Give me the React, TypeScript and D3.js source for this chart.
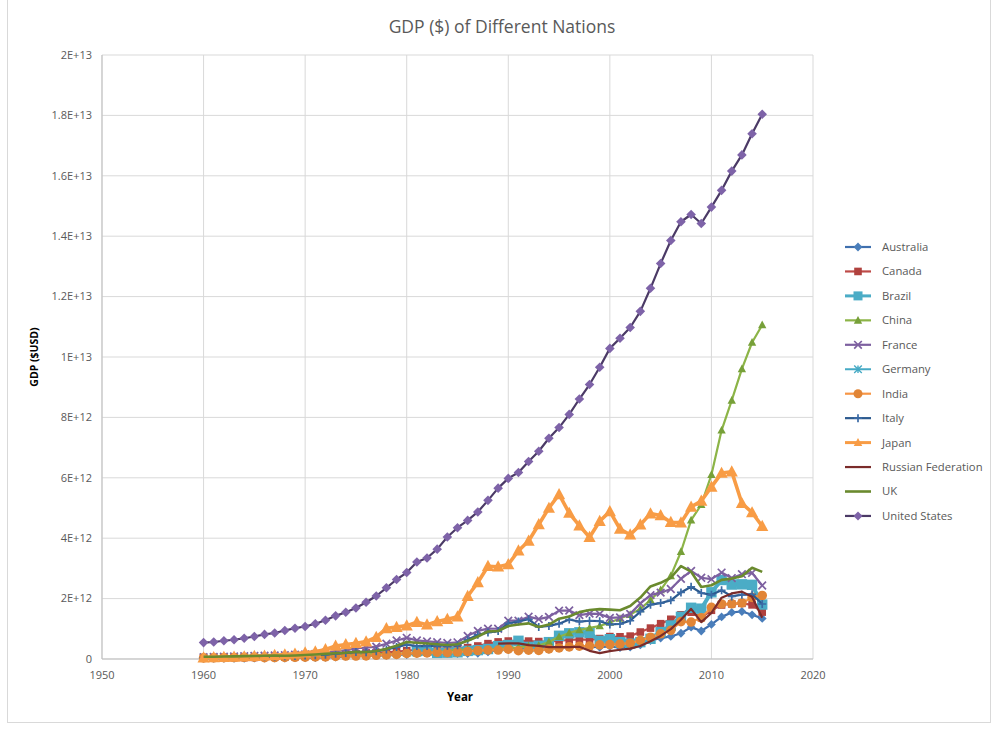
import React from 'react';
import * as d3 from 'd3';

// ---------- DATA (GDP in trillions of USD) ----------
const yearTicks = [1950, 1960, 1970, 1980, 1990, 2000, 2010, 2020];
const gdpTicks = [0, 2e12, 4e12, 6e12, 8e12, 1e13, 1.2e13, 1.4e13, 1.6e13, 1.8e13, 2e13];
const gdpTickLabels = ['0', '2E+12', '4E+12', '6E+12', '8E+12', '1E+13', '1.2E+13', '1.4E+13', '1.6E+13', '1.8E+13', '2E+13'];

const australia = [
  0.0186, 0.0196, 0.0199, 0.0215, 0.0238, 0.0259, 0.0273, 0.0302, 0.0324, 0.0363,
  0.0413, 0.0451, 0.0518, 0.0636, 0.0880, 0.0976, 0.1046, 0.1101, 0.1186, 0.1346,
  0.1498, 0.1768, 0.1934, 0.1769, 0.1932, 0.1804, 0.1819, 0.1894, 0.2356, 0.2995,
  0.3108, 0.3253, 0.3251, 0.3117, 0.3229, 0.3680, 0.4011, 0.4351, 0.3990, 0.3887,
  0.4152, 0.3788, 0.3946, 0.4667, 0.6121, 0.6934, 0.7472, 0.8533, 1.0554, 0.9276,
  1.1444, 1.3948, 1.5434, 1.5736, 1.4643, 1.3450];
const canada = [
  0.0411, 0.0405, 0.0409, 0.0438, 0.0477, 0.0524, 0.0580, 0.0618, 0.0668, 0.0726,
  0.0873, 0.0992, 0.1135, 0.1314, 0.1609, 0.1733, 0.2064, 0.2114, 0.2187, 0.2432,
  0.2739, 0.3064, 0.3139, 0.3404, 0.3550, 0.3646, 0.3771, 0.4312, 0.5079, 0.5653,
  0.5939, 0.6101, 0.5924, 0.5773, 0.5785, 0.6041, 0.6286, 0.6529, 0.6317, 0.6765,
  0.7421, 0.7361, 0.7578, 0.8925, 1.0232, 1.1691, 1.3150, 1.4645, 1.5494, 1.3711,
  1.6135, 1.7890, 1.8240, 1.8425, 1.7926, 1.5528];
const brazil = [ // from 1981
  0.2633, 0.2816, 0.2033, 0.2093, 0.2227, 0.2681, 0.2941, 0.3304, 0.4255,
  0.4618, 0.6025, 0.4006, 0.4375, 0.5583, 0.7691, 0.8503, 0.8831, 0.8637, 0.5995,
  0.6554, 0.5594, 0.5079, 0.5583, 0.6690, 0.8915, 1.1076, 1.3971, 1.6959, 1.6670,
  2.2088, 2.6163, 2.4652, 2.4727, 2.4559, 1.8026];
const china = [
  0.0597, 0.0500, 0.0472, 0.0507, 0.0597, 0.0704, 0.0767, 0.0729, 0.0709, 0.0797,
  0.0926, 0.0996, 0.1136, 0.1385, 0.1442, 0.1632, 0.1539, 0.1749, 0.1495, 0.1783,
  0.1911, 0.1958, 0.2051, 0.2303, 0.2599, 0.3094, 0.3008, 0.2729, 0.3123, 0.3479,
  0.3609, 0.3834, 0.4266, 0.4447, 0.5643, 0.7345, 0.8637, 0.9615, 1.0290, 1.0940,
  1.2110, 1.3390, 1.4710, 1.6600, 1.9550, 2.2860, 2.7520, 3.5520, 4.5980, 5.1100,
  6.1010, 7.5730, 8.5610, 9.6070, 10.480, 11.060];
const france = [
  0.0620, 0.0678, 0.0758, 0.0846, 0.0944, 0.1017, 0.1106, 0.1190, 0.1297, 0.1408,
  0.1486, 0.1650, 0.2036, 0.2641, 0.2863, 0.3600, 0.3720, 0.4112, 0.5063, 0.6138,
  0.7012, 0.6151, 0.5841, 0.5588, 0.5300, 0.5535, 0.7654, 0.9300, 1.0069, 1.0012,
  1.2693, 1.2693, 1.4013, 1.3222, 1.3939, 1.6016, 1.6053, 1.4524, 1.5032, 1.4925,
  1.3623, 1.3768, 1.4942, 1.8404, 2.1155, 2.1963, 2.3181, 2.6570, 2.9183, 2.6902,
  2.6426, 2.8618, 2.6812, 2.8082, 2.8497, 2.4337];
const germany: number[] = [];
const india = [
  0.0370, 0.0392, 0.0422, 0.0484, 0.0560, 0.0590, 0.0459, 0.0501, 0.0531, 0.0585,
  0.0624, 0.0675, 0.0716, 0.0855, 0.0995, 0.0984, 0.1026, 0.1217, 0.1377, 0.1524,
  0.1865, 0.1935, 0.2007, 0.2184, 0.2124, 0.2322, 0.2482, 0.2794, 0.2967, 0.2960,
  0.3266, 0.2742, 0.2932, 0.2842, 0.3332, 0.3666, 0.3999, 0.4231, 0.4289, 0.4667,
  0.4767, 0.4939, 0.5238, 0.6184, 0.7215, 0.8340, 0.9492, 1.2387, 1.2241, 1.3654,
  1.7085, 1.8230, 1.8277, 1.8567, 2.0391, 2.1024];
const italy = [
  0.0404, 0.0448, 0.0502, 0.0580, 0.0635, 0.0680, 0.0734, 0.0811, 0.0878, 0.0972,
  0.1136, 0.1242, 0.1447, 0.1744, 0.1996, 0.2279, 0.2246, 0.2576, 0.3154, 0.3946,
  0.4759, 0.4291, 0.4264, 0.4408, 0.4397, 0.4528, 0.6395, 0.8035, 0.8778, 0.9253,
  1.1774, 1.2426, 1.3158, 1.0614, 1.0959, 1.1706, 1.3085, 1.2391, 1.2667, 1.2520,
  1.1419, 1.1623, 1.2667, 1.5696, 1.7986, 1.8524, 1.9428, 2.2035, 2.3909, 2.1853,
  2.1252, 2.2761, 2.0726, 2.1303, 2.1416, 1.8219];
const japan = [
  0.0443, 0.0537, 0.0605, 0.0692, 0.0817, 0.0910, 0.1059, 0.1236, 0.1469, 0.1727,
  0.2127, 0.2402, 0.3181, 0.4320, 0.4794, 0.5213, 0.5762, 0.7210, 1.0140, 1.0550,
  1.1050, 1.2180, 1.1340, 1.2430, 1.3180, 1.3990, 2.0790, 2.5330, 3.0720, 3.0540,
  3.1330, 3.5840, 3.9090, 4.4540, 4.9990, 5.4490, 4.8330, 4.4150, 4.0320, 4.5620,
  4.8880, 4.3040, 4.1150, 4.4450, 4.8150, 4.7550, 4.5300, 4.5150, 5.0380, 5.2310,
  5.7000, 6.1570, 6.2030, 5.1560, 4.8500, 4.3950];
const russia = [ // from 1989
  0.5066,
  0.5168, 0.5179, 0.4602, 0.4350, 0.3951, 0.3955, 0.3918, 0.4049, 0.2710, 0.1959,
  0.2597, 0.3066, 0.3451, 0.4303, 0.5910, 0.7640, 0.9899, 1.2997, 1.6608, 1.2226,
  1.5249, 2.0317, 2.1705, 2.2307, 2.0637, 1.3660];
const uk = [
  0.0724, 0.0770, 0.0811, 0.0866, 0.0945, 0.1014, 0.1078, 0.1132, 0.1077, 0.1164,
  0.1306, 0.1482, 0.1698, 0.1928, 0.2063, 0.2412, 0.2327, 0.2631, 0.3356, 0.4382,
  0.5643, 0.5401, 0.5153, 0.4894, 0.4615, 0.4894, 0.6015, 0.7458, 0.9105, 0.9265,
  1.0932, 1.1427, 1.1795, 1.0610, 1.1404, 1.3356, 1.4086, 1.5528, 1.6239, 1.6516,
  1.6358, 1.6133, 1.7557, 2.0349, 2.4040, 2.5222, 2.6900, 3.0746, 2.8908, 2.3828,
  2.4414, 2.6193, 2.6621, 2.7394, 3.0226, 2.8854];
const unitedStates = [
  0.543, 0.563, 0.605, 0.638, 0.686, 0.744, 0.815, 0.862, 0.943, 1.020,
  1.075, 1.168, 1.282, 1.429, 1.549, 1.689, 1.878, 2.086, 2.357, 2.632,
  2.863, 3.211, 3.345, 3.638, 4.041, 4.347, 4.590, 4.870, 5.253, 5.658,
  5.980, 6.174, 6.539, 6.879, 7.309, 7.664, 8.100, 8.609, 9.089, 9.661,
  10.285, 10.622, 10.978, 11.511, 12.275, 13.094, 13.856, 14.478, 14.719, 14.419,
  14.964, 15.518, 16.155, 16.692, 17.393, 18.037];

type Marker = 'diamond' | 'square' | 'triangle' | 'x' | 'asterisk' | 'circle' | 'plus' | 'none';
interface Series { name: string; start: number; values: number[]; line: string; fill: string; width: number; marker: Marker; size: number; }

const seriesList: Series[] = [
  { name: 'Australia', start: 1960, values: australia, line: '#3f6fae', fill: '#4a7ebb', width: 2.2, marker: 'diamond', size: 4.4 },
  { name: 'Canada', start: 1960, values: canada, line: '#be4b48', fill: '#b0413e', width: 2.2, marker: 'square', size: 3.8 },
  { name: 'Brazil', start: 1981, values: brazil, line: '#4bacc6', fill: '#4bacc6', width: 4, marker: 'square', size: 5.2 },
  { name: 'China', start: 1960, values: china, line: '#8cb447', fill: '#77a039', width: 2.2, marker: 'triangle', size: 4.4 },
  { name: 'France', start: 1960, values: france, line: '#7d60a0', fill: '#7d60a0', width: 2.2, marker: 'x', size: 3.8 },
  { name: 'Germany', start: 1970, values: germany, line: '#46aac5', fill: '#46aac5', width: 2, marker: 'asterisk', size: 3.8 },
  { name: 'India', start: 1960, values: india, line: '#f79646', fill: '#e18536', width: 2.2, marker: 'circle', size: 4.8 },
  { name: 'Italy', start: 1960, values: italy, line: '#2c5a8f', fill: '#3a6aa5', width: 2.2, marker: 'plus', size: 4 },
  { name: 'Japan', start: 1960, values: japan, line: '#f89c45', fill: '#f89c45', width: 3.6, marker: 'triangle', size: 6.4 },
  { name: 'Russian Federation', start: 1989, values: russia, line: '#7a2b2a', fill: '#7a2b2a', width: 2.2, marker: 'none', size: 0 },
  { name: 'UK', start: 1960, values: uk, line: '#6a8a2e', fill: '#6a8a2e', width: 2.6, marker: 'none', size: 0 },
  { name: 'United States', start: 1960, values: unitedStates, line: '#4b3a66', fill: '#7e63a8', width: 2.2, marker: 'diamond', size: 4.8 },
];

// ---------- LAYOUT ----------
const W = 997;
const H = 729;
const plot = { left: 102, right: 813, top: 55, bottom: 659 };
const FONT = "'Open Sans', 'Noto Sans', sans-serif";
const TXT = '#595959';

function MarkerShape({ type, size, color, x, y }: { type: Marker; size: number; color: string; x: number; y: number }) {
  const r = size;
  const t = `translate(${x},${y})`;
  switch (type) {
    case 'diamond':
      return <path transform={t} d={`M0,${-r}L${r},0L0,${r}L${-r},0Z`} fill={color} />;
    case 'square':
      return <rect x={x - r} y={y - r} width={2 * r} height={2 * r} fill={color} />;
    case 'triangle':
      return <path transform={t} d={`M0,${-r}L${r * 0.95},${r * 0.75}L${-r * 0.95},${r * 0.75}Z`} fill={color} />;
    case 'circle':
      return <circle cx={x} cy={y} r={r} fill={color} />;
    case 'x':
      return <path transform={t} d={`M${-r},${-r}L${r},${r}M${-r},${r}L${r},${-r}`} stroke={color} strokeWidth={1.7} fill="none" />;
    case 'plus':
      return <path transform={t} d={`M${-r},0L${r},0M0,${-r}L0,${r}`} stroke={color} strokeWidth={1.7} fill="none" />;
    case 'asterisk':
      return <path transform={t} d={`M${-r},${-r}L${r},${r}M${-r},${r}L${r},${-r}M0,${-r}L0,${r}`} stroke={color} strokeWidth={1.4} fill="none" />;
    default:
      return null;
  }
}

export default function App() {
  const x = d3.scaleLinear().domain([1950, 2020]).range([plot.left, plot.right]);
  const y = d3.scaleLinear().domain([0, 2e13]).range([plot.bottom, plot.top]);
  const line = d3.line<[number, number]>().x(d => x(d[0])).y(d => y(d[1]));

  const legendX = 845;
  const legendY0 = 247;
  const legendStep = 24.45;

  return (
    <svg width={W} height={H} style={{ position: 'absolute', left: 0, top: 0, background: '#fff' }} fontFamily={FONT}>
      <rect x={0} y={0} width={W} height={H} fill="#fff" />
      <rect x={7.5} y={-1} width={983} height={723.5} fill="none" stroke="#d9d9d9" strokeWidth={1} />

      <text x={502} y={33} textAnchor="middle" fontSize={17.5} fill={TXT}>GDP ($) of Different Nations</text>

      {/* gridlines */}
      {gdpTicks.map(v => (
        <line key={'h' + v} x1={plot.left} x2={plot.right} y1={y(v)} y2={y(v)} stroke="#d9d9d9" strokeWidth={1} />
      ))}
      {yearTicks.map(v => (
        <line key={'v' + v} x1={x(v)} x2={x(v)} y1={plot.top} y2={plot.bottom} stroke="#d9d9d9" strokeWidth={1} />
      ))}
      <line x1={plot.left} x2={plot.left} y1={plot.top} y2={plot.bottom} stroke="#bfbfbf" />
      <line x1={plot.left} x2={plot.right} y1={plot.bottom} y2={plot.bottom} stroke="#bfbfbf" />

      {/* tick labels */}
      {gdpTicks.map((v, i) => (
        <text key={'yl' + v} x={plot.left - 10} y={y(v)} dy="0.35em" textAnchor="end" fontSize={11} fill={TXT}>{gdpTickLabels[i]}</text>
      ))}
      {yearTicks.map(v => (
        <text key={'xl' + v} x={x(v)} y={plot.bottom + 20} textAnchor="middle" fontSize={11} fill={TXT}>{v}</text>
      ))}

      <text x={460} y={701} textAnchor="middle" fontSize={11.5} fontWeight="bold" fill="#000">Year</text>
      <text transform={`translate(38,${357}) rotate(-90)`} textAnchor="middle" fontSize={10.5} fontWeight="bold" fill="#000">GDP ($USD)</text>

      {/* series */}
      {seriesList.map(s => {
        const pts: [number, number][] = s.values.map((v, i) => [s.start + i, v * 1e12]);
        if (pts.length === 0) return null;
        return (
          <g key={s.name}>
            <path d={line(pts) || ''} fill="none" stroke={s.line} strokeWidth={s.width} strokeLinejoin="round" />
            {pts.map(p => (
              <MarkerShape key={p[0]} type={s.marker} size={s.size} color={s.fill} x={x(p[0])} y={y(p[1])} />
            ))}
          </g>
        );
      })}

      {/* legend */}
      {seriesList.map((s, i) => {
        const ly = legendY0 + i * legendStep;
        return (
          <g key={'lg' + s.name}>
            <line x1={legendX} x2={legendX + 26} y1={ly} y2={ly} stroke={s.line} strokeWidth={Math.min(s.width, 3)} />
            <MarkerShape type={s.marker} size={Math.min(s.size, 4.5)} color={s.fill} x={legendX + 13} y={ly} />
            <text x={legendX + 37} y={ly} dy="0.35em" fontSize={11.3} fill={TXT}>{s.name}</text>
          </g>
        );
      })}
    </svg>
  );
}
